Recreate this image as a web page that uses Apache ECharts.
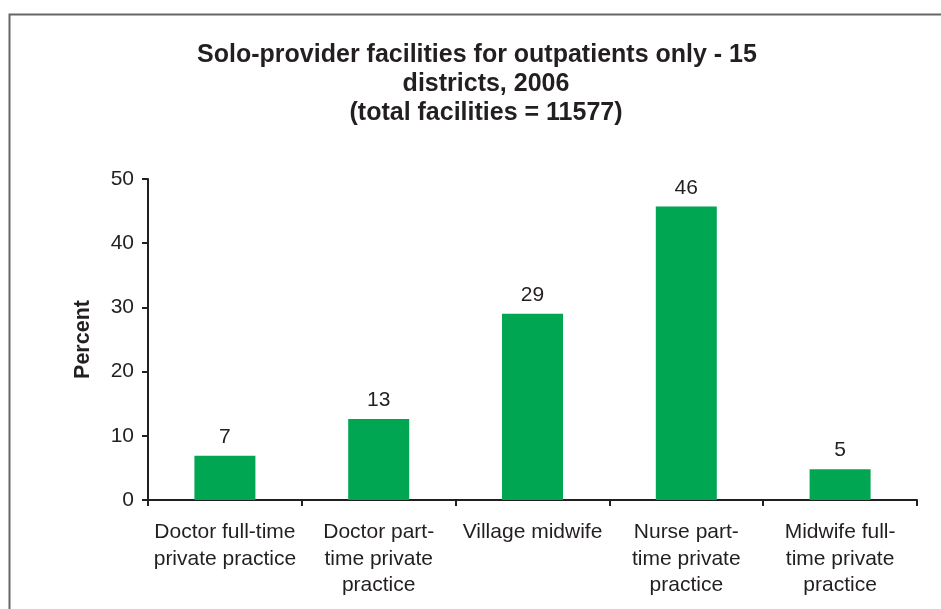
<!DOCTYPE html>
<html>
<head>
<meta charset="utf-8">
<script src="https://cdn.jsdelivr.net/npm/echarts@6/dist/echarts.min.js"></script>
<style>html,body{margin:0;padding:0;background:#fff;}#c{width:941px;height:609px;}</style>
</head>
<body>
<div id="c"></div>
<script>
const titleLines = ['Solo-provider facilities for outpatients only - 15', 'districts, 2006', '(total facilities = 11577)'];
const categories = [
  'Doctor full-time\nprivate practice',
  'Doctor part-\ntime private\npractice',
  'Village midwife',
  'Nurse part-\ntime private\npractice',
  'Midwife full-\ntime private\npractice'
];
const values = [6.9, 12.6, 29.0, 45.7, 4.8];
const yTicks = [0, 10, 20, 30, 40, 50];
const yName = 'Percent';

const FONT = '"Liberation Sans", Arial, sans-serif';
const TXT = '#231f20';
const tStyle = {fontFamily: FONT, fontWeight: 'bold', fontSize: 25, color: TXT, lineHeight: 29.3};
const chart = echarts.init(document.getElementById('c'), null, {renderer: 'canvas'});
chart.setOption({
  animation: false,
  backgroundColor: '#fff',
  graphic: [{
    type: 'rect', left: 7, top: 12,
    shape: {width: 1000, height: 1000},
    style: {fill: 'none', stroke: '#666', lineWidth: 2}
  }],
  title: {
    text: '{a|' + titleLines[0] + '}\n{b|' + titleLines[1] + '}\n{b|' + titleLines[2] + '}',
    left: 481, top: 35, textAlign: 'center',
    textStyle: Object.assign({}, tStyle, {
      rich: {
        a: Object.assign({}, tStyle, {padding: [0, 18, 0, 0]}),
        b: Object.assign({}, tStyle)
      }
    })
  },
  grid: {left: 148, right: 24, top: 179, bottom: 109, containLabel: false},
  xAxis: {
    type: 'category',
    data: categories,
    axisLine: {lineStyle: {color: TXT, width: 2}},
    axisTick: {show: true, alignWithLabel: false, length: 6, lineStyle: {color: TXT, width: 2}},
    axisLabel: {interval: 0, margin: 19, fontFamily: FONT, fontSize: 21, color: TXT, lineHeight: 26.5, align: 'center'}
  },
  yAxis: {
    type: 'value',
    min: yTicks[0], max: yTicks[yTicks.length - 1], interval: 10,
    name: yName,
    nameLocation: 'middle',
    nameGap: 54,
    nameTextStyle: {fontFamily: FONT, fontWeight: 'bold', fontSize: 21.5, color: TXT},
    splitLine: {show: false},
    axisLine: {show: true, lineStyle: {color: TXT, width: 2}},
    axisTick: {show: true, length: 6, lineStyle: {color: TXT, width: 2}},
    axisLabel: {margin: 14, fontFamily: FONT, fontSize: 21, color: TXT}
  },
  series: [{
    type: 'bar',
    data: values,
    barWidth: 61,
    itemStyle: {color: '#00a651'},
    label: {
      show: true, position: 'top', distance: 8,
      fontFamily: FONT, fontSize: 21, color: TXT,
      formatter: p => Math.round(p.value)
    }
  }]
});
</script>
</body>
</html>
